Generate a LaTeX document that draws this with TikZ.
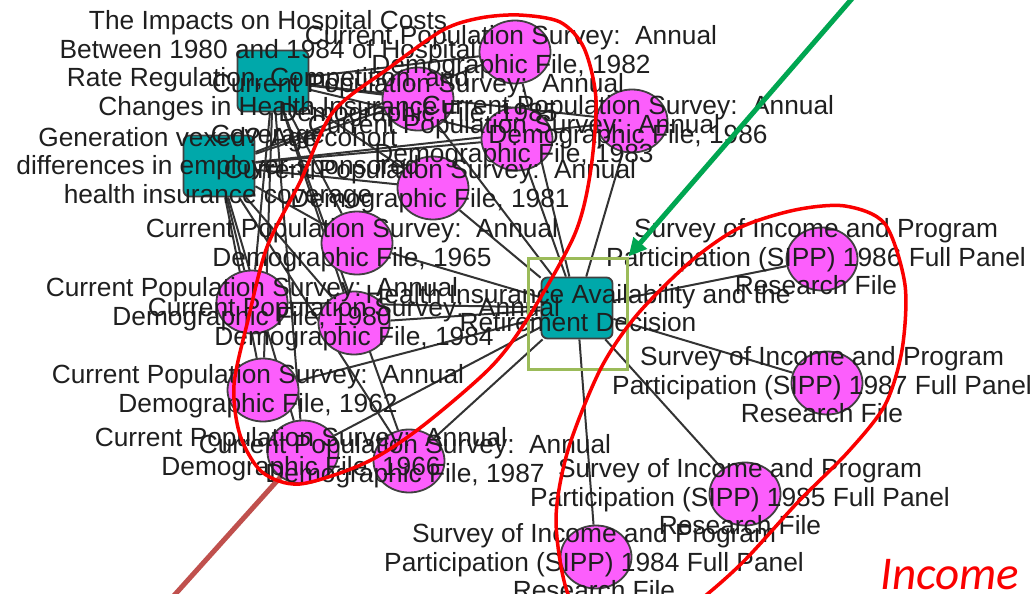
\documentclass[tikz,border=0pt]{standalone}
\usepackage{fontspec}
\setmainfont{Liberation Sans}
\newfontfamily\notefont{Carlito}
\usetikzlibrary{arrows.meta,shapes.geometric}
\definecolor{studyteal}{RGB}{0,168,170}
\definecolor{datapink}{RGB}{252,94,252}
\definecolor{ringred}{RGB}{250,0,0}
\definecolor{hiligreen}{RGB}{155,187,89}
\definecolor{arrowgreen}{RGB}{0,166,81}
\definecolor{pointerbrown}{RGB}{192,80,77}
\pgfdeclarelayer{backdrop}
\pgfdeclarelayer{links}
\pgfdeclarelayer{labels}
\pgfsetlayers{backdrop,links,main,labels}
\newcommand{\cpsfile}[1]{Current Population Survey:\ \ Annual\\Demographic File, #1}
\newcommand{\sippfile}[1]{Survey of Income and Program\\Participation (SIPP) #1 Full Panel\\Research File}

\begin{document}
\begin{tikzpicture}[x=1pt, y=-1pt,
    study/.style={rectangle, rounded corners=6pt, draw=black!75, line width=1.8pt,
                  fill=studyteal, minimum width=71pt, minimum height=61pt, inner sep=0pt},
    dataset/.style={ellipse, draw=black!75, line width=1.8pt, fill=datapink,
                  minimum width=71pt, minimum height=63pt, inner sep=0pt},
    lab/.style={align=center, font=\fontsize{26.3}{28.5}\selectfont, inner sep=0pt, text=black!88},
    link/.style={draw=black!80, line width=2pt},
    hilite/.style={rectangle, draw=hiligreen, line width=3pt,
                  minimum width=99pt, minimum height=111pt, inner sep=0pt},
    pointer/.style={line width=5pt},
    ring/.style={draw=ringred, line width=3.5pt}
]
\begin{pgfonlayer}{backdrop}
\fill[white] (0,0) rectangle (1033,594);
\end{pgfonlayer}
\useasboundingbox (0,0) rectangle (1033,594);

% Studies
\node[study] (hosp) at (273,81) {};
\node[study] (vexed) at (219,166) {};
\node[study] (retire) at (577,308) {};

% CPS files
\node[dataset] (c82) at (515,52) {};
\node[dataset] (c85) at (418,99) {};
\node[dataset] (c83) at (517,139) {};
\node[dataset] (c86) at (632,121) {};
\node[dataset] (c81) at (433,188) {};
\node[dataset] (c65) at (357,243) {};
\node[dataset] (c80) at (252,302) {};
\node[dataset] (c84) at (354,323) {};
\node[dataset] (c62) at (263,390) {};
\node[dataset] (c66) at (303,452) {};
\node[dataset] (c87) at (409,461) {};

% SIPP files
\node[dataset] (s86) at (822,259) {};
\node[dataset] (s87) at (827,383) {};
\node[dataset] (s85) at (745,494) {};
\node[dataset] (s84) at (596,557) {};

\begin{pgfonlayer}{links}
\foreach \ds in {c82,c85,c83,c86,c81,c65,c80,c84,c62,c66,c87} {
  \draw[link] (hosp) -- (\ds);
  \draw[link] (vexed) -- (\ds);
  \draw[link] (retire) -- (\ds);
}
\foreach \ds in {s86,s87,s85,s84}
  \draw[link] (retire) -- (\ds);
\end{pgfonlayer}

\begin{pgfonlayer}{labels}
\node[lab] (lhosp) at (268,80) {The Impacts on Hospital Costs\\Between 1980 and 1984 of Hospital\\Rate Regulation, Competition, and\\Changes in Health Insurance\\Coverage};
\node[lab] (lvexed) at (218,168) {Generation vexed? Age cohort\\differences in employer-sponsored\\health insurance coverage};
\node[lab] (lretire) at (578,308) {Health Insurance Availability and the\\Retirement Decision};

\node[lab] (lc82) at (511,52) {\cpsfile{1982}};
\node[lab] (lc85) at (418,100) {\cpsfile{1985}};
\node[lab] (lc83) at (514,141) {\cpsfile{1983}};
\node[lab] (lc86) at (628,122) {\cpsfile{1986}};
\node[lab] (lc81) at (430,186) {\cpsfile{1981}};
\node[lab] (lc65) at (352,245) {\cpsfile{1965}};
\node[lab] (lc80) at (252,304) {\cpsfile{1980}};
\node[lab] (lc84) at (354,324) {\cpsfile{1984}};
\node[lab] (lc62) at (258,391) {\cpsfile{1962}};
\node[lab] (lc66) at (301,454) {\cpsfile{1966}};
\node[lab] (lc87) at (405,461) {\cpsfile{1987}};

\node[lab] (ls86) at (816,257) {\sippfile{1986}};
\node[lab] (ls87) at (822,385) {\sippfile{1987}};
\node[lab] (ls85) at (740,497) {\sippfile{1985}};
\node[lab] (ls84) at (594,562) {\sippfile{1984}};

% Annotations
\node[hilite] (hl) at (577.5,313.5) {};
\coordinate (gtop) at (856,-6);
\draw[pointer, draw=arrowgreen, -{Triangle[length=18pt,width=17pt]}] (gtop) -- (hl.north east);
\coordinate (bend) at (170,600);
\draw[pointer, draw=pointerbrown] (c66) -- (bend);

\draw[ring] plot[smooth cycle] coordinates {(519,15) (560,22) (584,48) (596,100) (590,175)
  (574,236) (528,318) (490,368) (420,428) (365,463) (300,484) (262,472) (240,435)
  (234,385) (248,320) (267,247) (300,182) (333,112) (389,68) (443,30) (480,18)};
\draw[ring] plot[smooth cycle] coordinates {(845,206) (885,224) (905,285) (902,350)
  (885,405) (848,452) (798,502) (745,560) (705,596) (665,625) (600,628) (568,594)
  (556,520) (568,450) (600,370) (636,316) (690,262) (739,228) (795,210)};

\node[font=\notefont\itshape\fontsize{47}{50}\selectfont, text=ringred, anchor=base west,
      inner sep=0pt] (income) at (880,589) {Income};
\end{pgfonlayer}
\end{tikzpicture}
\end{document}
